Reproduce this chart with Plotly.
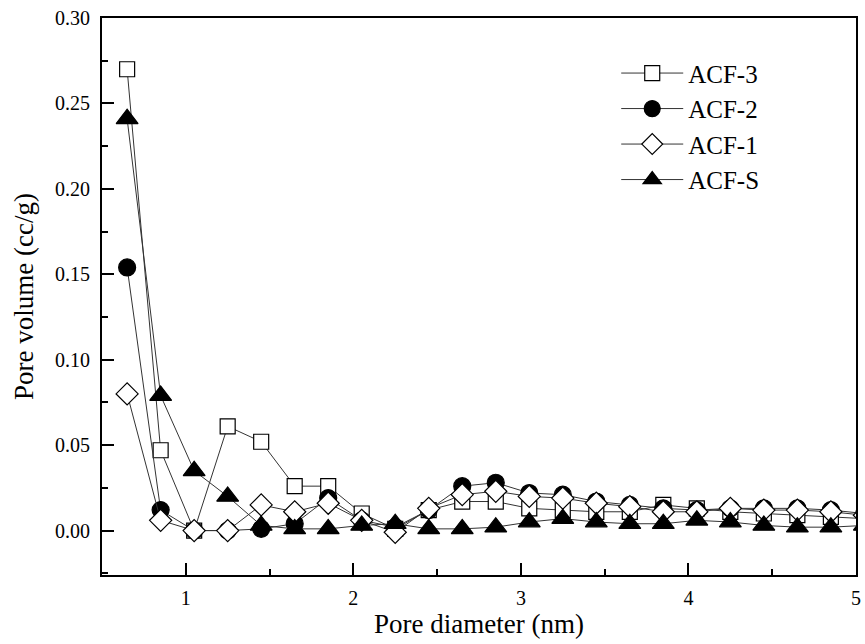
import plotly.graph_objects as go

x = [0.65, 0.85, 1.05, 1.25, 1.45, 1.65, 1.85, 2.05, 2.25, 2.45, 2.65, 2.85,
     3.05, 3.25, 3.45, 3.65, 3.85, 4.05, 4.25, 4.45, 4.65, 4.85, 5.05]

acf3 = [0.270, 0.047, 0.000, 0.061, 0.052, 0.026, 0.026, 0.010, 0.001, 0.012, 0.017, 0.017,
        0.013, 0.012, 0.011, 0.011, 0.015, 0.013, 0.011, 0.010, 0.009, 0.008, 0.007]
acf2 = [0.154, 0.012, 0.000, 0.000, 0.001, 0.004, 0.019, 0.006, 0.002, 0.012, 0.026, 0.028,
        0.022, 0.021, 0.017, 0.015, 0.013, 0.012, 0.013, 0.013, 0.013, 0.012, 0.010]
acf1 = [0.080, 0.006, 0.000, 0.000, 0.015, 0.011, 0.016, 0.006, -0.001, 0.013, 0.021, 0.023,
        0.020, 0.019, 0.016, 0.014, 0.011, 0.011, 0.013, 0.012, 0.012, 0.011, 0.009]
acfs = [0.241, 0.079, 0.035, 0.020, 0.003, 0.001, 0.001, 0.003, 0.004, 0.001, 0.001, 0.002,
        0.005, 0.007, 0.005, 0.004, 0.004, 0.006, 0.005, 0.003, 0.002, 0.002, 0.003]

series = [
    ("ACF-3", acf3, "square", "white", 15),
    ("ACF-2", acf2, "circle", "black", 17),
    ("ACF-1", acf1, "diamond", "white", 17),
    ("ACF-S", acfs, "triangle-up", "black", 19),
]

fig = go.Figure()
for name, y, sym, fill, sz in series:
    fig.add_trace(go.Scatter(
        x=x, y=y, name=name, mode="lines+markers",
        line=dict(color="#333333", width=1),
        marker=dict(symbol=sym, size=sz, color=fill,
                    line=dict(color="black", width=1.2)),
        cliponaxis=True,
    ))

font_family = "Liberation Serif"

fig.update_layout(
    width=865, height=644,
    margin=dict(l=102, r=4, t=18, b=69),
    paper_bgcolor="white", plot_bgcolor="white",
    font=dict(family=font_family, color="black", size=20),
    showlegend=True,
    legend=dict(
        x=0.682, y=0.942, xanchor="left", yanchor="top",
        bgcolor="rgba(0,0,0,0)", borderwidth=0,
        font=dict(family=font_family, size=25, color="black"),
        itemwidth=62, tracegroupgap=0,
    ),
    xaxis=dict(
        range=[0.5, 5], dtick=1, tick0=0,
        ticks="inside", ticklen=12, tickwidth=2, tickcolor="black",
        showline=True, linewidth=2, linecolor="black", mirror=True,
        showgrid=False, zeroline=False,
        minor=dict(dtick=0.5, tick0=0, ticks="inside", ticklen=6, tickwidth=2, tickcolor="black", showgrid=False),
        ticklabelstandoff=4,
        tickfont=dict(family=font_family, size=20, color="black"),
        title=dict(text="Pore diameter (nm)", font=dict(family=font_family, size=27, color="black"), standoff=5),
    ),
    yaxis=dict(
        range=[-0.026, 0.30], dtick=0.05, tick0=0, tickformat=".2f",
        ticks="inside", ticklen=12, tickwidth=2, tickcolor="black",
        showline=True, linewidth=2, linecolor="black", mirror=True,
        showgrid=False, zeroline=False,
        minor=dict(dtick=0.025, tick0=0, ticks="inside", ticklen=6, tickwidth=2, tickcolor="black", showgrid=False),
        ticklabelstandoff=6,
        tickfont=dict(family=font_family, size=20, color="black"),
        title=dict(text="Pore volume (cc/g)", font=dict(family=font_family, size=27, color="black"), standoff=14),
    ),
)

fig.write_html("out.html")
